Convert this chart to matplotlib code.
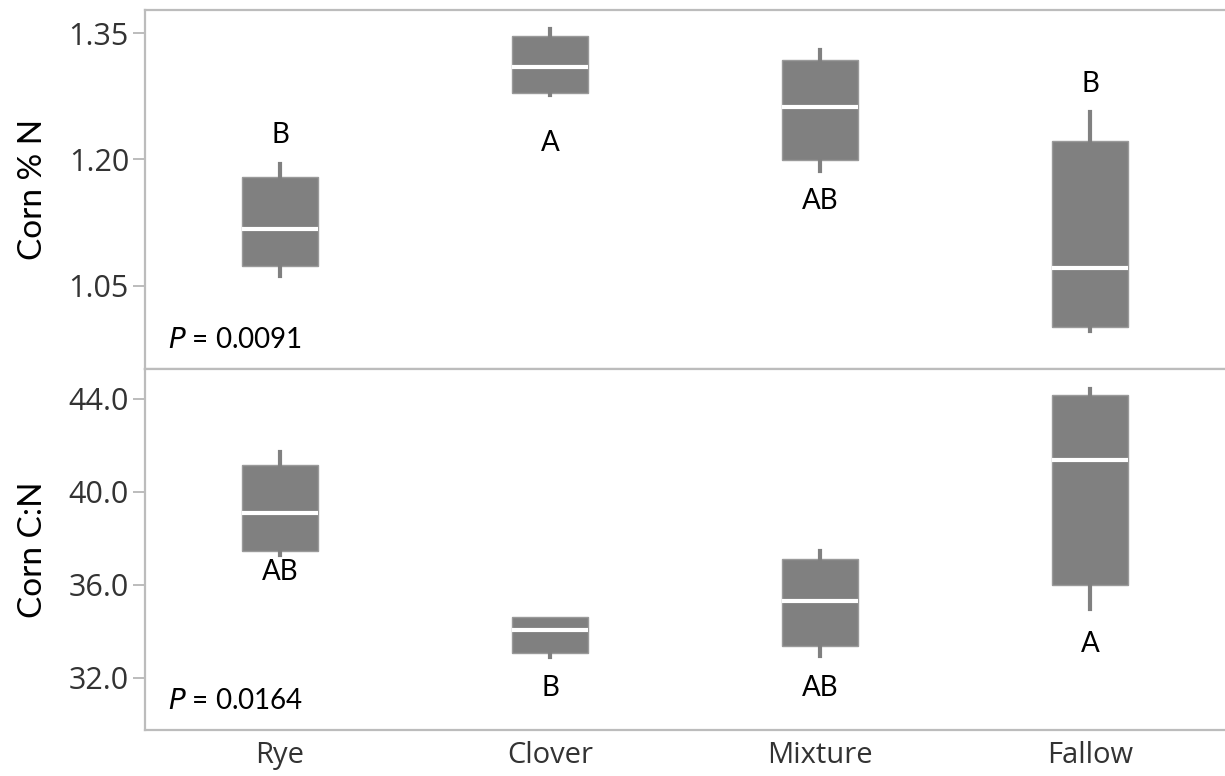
import matplotlib
matplotlib.use("Agg")
import matplotlib.pyplot as plt

groups = ["Rye", "Clover", "Mixture", "Fallow"]

# Corn % N: lower whisker, q1, median, q3, upper whisker
n_low = [1.062, 1.276, 1.186, 0.997]
n_q1 = [1.074, 1.279, 1.199, 1.001]
n_med = [1.118, 1.310, 1.262, 1.071]
n_q3 = [1.179, 1.347, 1.318, 1.222]
n_high = [1.195, 1.355, 1.330, 1.256]
n_letters = ["B", "A", "AB", "B"]
n_letter_y = [1.2285, 1.2195, 1.1507, 1.2895]
n_p = "0.0091"

# Corn C:N
cn_low = [37.30, 32.90, 32.95, 34.97]
cn_q1 = [37.46, 33.08, 33.38, 36.00]
cn_med = [39.10, 34.06, 35.31, 41.38]
cn_q3 = [41.16, 34.62, 37.12, 44.17]
cn_high = [41.72, 34.62, 37.46, 44.43]
cn_letters = ["AB", "B", "AB", "A"]
cn_letter_y = [36.56, 31.57, 31.57, 33.46]
cn_p = "0.0164"

box_gray = "#808080"
spine_gray = "#bcbcbc"
tick_color = "#333333"


def make_stats(low, q1, med, q3, high):
    return [dict(whislo=a, q1=b, med=c, q3=d, whishi=e, fliers=[])
            for a, b, c, d, e in zip(low, q1, med, q3, high)]


fig = plt.figure(figsize=(12.25, 7.76), dpi=100)
ax1 = fig.add_axes([145 / 1225, 1 - 369 / 776, 1080 / 1225, 359 / 776])
ax2 = fig.add_axes([145 / 1225, 1 - 730 / 776, 1080 / 1225, 361 / 776])

panels = [
    (ax1, make_stats(n_low, n_q1, n_med, n_q3, n_high), n_letters, n_letter_y,
     n_p, "Corn % N", (0.9515, 1.3773), [1.05, 1.20, 1.35], "{:.2f}"),
    (ax2, make_stats(cn_low, cn_q1, cn_med, cn_q3, cn_high), cn_letters, cn_letter_y,
     cn_p, "Corn C:N", (29.76, 45.29), [32.0, 36.0, 40.0, 44.0], "{:.1f}"),
]

for ax, stats, letters, letter_y, pval, ylabel, ylim, yticks, fmt in panels:
    ax.bxp(stats, positions=range(len(groups)), widths=0.285, patch_artist=True,
           showcaps=False, showfliers=False,
           boxprops=dict(facecolor=box_gray, edgecolor="#9a9a9a", linewidth=1),
           medianprops=dict(color="white", linewidth=3),
           whiskerprops=dict(color=box_gray, linewidth=3))
    ax.set_xlim(-0.5, 3.5)
    ax.set_ylim(*ylim)
    ax.set_yticks(yticks)
    ax.set_yticklabels([fmt.format(v) for v in yticks], family="Open Sans",
                       fontsize=22, color=tick_color)
    ax.tick_params(axis="y", length=8.5, width=1.4, color=spine_gray, pad=3)
    ax.spines["right"].set_visible(False)
    for s in ["left", "top", "bottom"]:
        ax.spines[s].set_color(spine_gray)
        ax.spines[s].set_linewidth(1.6)
    ax.set_ylabel(ylabel, family="Lato", fontsize=24, color="black")
    ax.yaxis.set_label_coords(-0.090, 0.5)
    for i, (lab, y) in enumerate(zip(letters, letter_y)):
        ax.text(i, y, lab, ha="center", va="center", family="Lato", fontsize=20)
    ax.text(0.021, 0.08, r"$\it{P}$ = " + pval, transform=ax.transAxes,
            ha="left", va="center", family="Lato", fontsize=20)

ax1.set_xticks([])
ax2.set_xticks(range(len(groups)))
ax2.set_xticklabels(groups, family="Open Sans", fontsize=21, color=tick_color)
ax2.tick_params(axis="x", length=0, pad=8)

fig.savefig("out.png", dpi=100)
